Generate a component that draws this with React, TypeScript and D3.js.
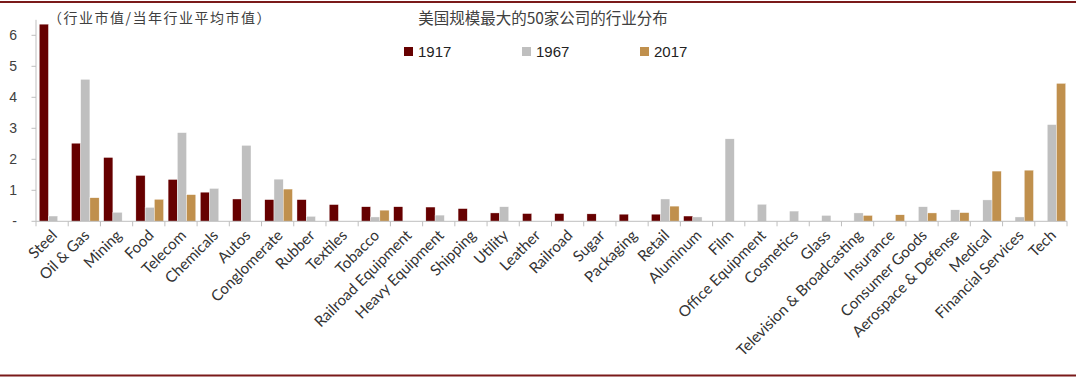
import React from "react";
import * as d3 from "d3";

const categories = [
  "Steel", "Oil & Gas", "Mining", "Food", "Telecom", "Chemicals", "Autos", "Conglomerate",
  "Rubber", "Textiles", "Tobacco", "Railroad Equipment", "Heavy Equipment", "Shipping", "Utility",
  "Leather", "Railroad", "Sugar", "Packaging", "Retail", "Aluminum", "Film", "Office Equipment",
  "Cosmetics", "Glass", "Television & Broadcasting", "Insurance", "Consumer Goods",
  "Aerospace & Defense", "Medical", "Financial Services", "Tech",
];

const seriesNames = ["1917", "1967", "2017"];

const values1917 = [6.36, 2.52, 2.06, 1.48, 1.35, 0.94, 0.72, 0.70, 0.70, 0.54, 0.47, 0.47, 0.46, 0.41, 0.27, 0.25, 0.25, 0.24, 0.23, 0.23, 0.17, 0, 0, 0, 0, 0, 0, 0, 0, 0, 0, 0];
const values1967 = [0.17, 4.58, 0.29, 0.45, 2.86, 1.06, 2.45, 1.36, 0.16, 0, 0.14, 0, 0.2, 0, 0.47, 0, 0, 0, 0, 0.72, 0.14, 2.66, 0.55, 0.33, 0.19, 0.27, 0, 0.47, 0.37, 0.69, 0.14, 3.12];
const values2017 = [0, 0.76, 0, 0.71, 0.86, 0, 0, 1.04, 0, 0, 0.36, 0, 0, 0, 0, 0, 0, 0, 0, 0.49, 0, 0, 0, 0, 0, 0.19, 0.21, 0.27, 0.28, 1.62, 1.65, 4.45];

const yTicks = [0, 1, 2, 3, 4, 5, 6];
const colors = ["#660000", "#BFBFBF", "#C0904D"];

const title = "美国规模最大的50家公司的行业分布";
const unitLabel = "（行业市值/当年行业平均市值）";

export default function App() {
  const W = 1080, H = 379;
  const left = 36, right = 1067, top = 19.8, bottom = 221.3;
  const series = [values1917, values1967, values2017];

  const x = d3.scaleBand<string>().domain(categories).range([left, right]).paddingInner(0).paddingOuter(0);
  const bw = x.bandwidth();
  const x1 = d3.scaleBand<string>().domain(seriesNames).range([bw * 0.1, bw * 0.1 + bw * 0.86]).padding(0);
  const y = d3.scaleLinear().domain([0, 6.5]).range([bottom, top]);

  const cjk = "'Noto Sans CJK SC', sans-serif";
  const latin = "'Liberation Sans', Arial, sans-serif";
  const labelFont = "Lato, 'Liberation Sans', sans-serif";
  const textColor = "#404040";

  const legendX = [404, 522, 640];

  return (
    <svg width={W} height={H} style={{ position: "absolute", left: 0, top: 0, background: "#fff" }}>
      <line x1={0} x2={1076} y1={2} y2={2} stroke="#7A1A1A" strokeWidth={2} />
      <line x1={0} x2={1076} y1={375.5} y2={375.5} stroke="#7A1A1A" strokeWidth={2} />

      <text x={543} y={24} textAnchor="middle" fontFamily={cjk} fontSize={15.5} fill={textColor}>{title}</text>
      <text x={48} y={23} fontFamily={cjk} fontSize={14} letterSpacing={1.5} fill={textColor}>{unitLabel}</text>

      {seriesNames.map((s, i) => (
        <g key={s}>
          <rect x={legendX[i]} y={47} width={9} height={9} fill={colors[i]} />
          <text x={legendX[i] + 14} y={57} fontFamily={latin} fontSize={15} fill="#222">{s}</text>
        </g>
      ))}

      {/* y axis */}
      <line x1={left} x2={left} y1={top} y2={bottom} stroke="#BFBFBF" strokeWidth={1} />
      {yTicks.map((t) => (
        <g key={t}>
          <line x1={left - 4.5} x2={left} y1={y(t)} y2={y(t)} stroke="#BFBFBF" />
          <text x={17} y={y(t) + 5} textAnchor="end" fontFamily={latin} fontSize={14} fill={textColor}>
            {t === 0 ? "-" : t}
          </text>
        </g>
      ))}

      {/* bars */}
      {categories.map((c, ci) => (
        <g key={c} transform={`translate(${x(c)},0)`}>
          {series.map((vals, si) =>
            vals[ci] > 0 ? (
              <rect
                key={si}
                x={x1(seriesNames[si])}
                y={y(vals[ci])}
                width={x1.bandwidth()}
                height={y(0) - y(vals[ci])}
                fill={colors[si]}
                stroke="#fff"
                strokeWidth={0.4}
              />
            ) : null
          )}
        </g>
      ))}

      {/* x axis */}
      <line x1={left} x2={right} y1={bottom} y2={bottom} stroke="#BFBFBF" strokeWidth={1} />
      {categories.map((c) => (
        <line key={"t" + c} x1={x(c)! + bw} x2={x(c)! + bw} y1={bottom} y2={bottom + 5} stroke="#BFBFBF" />
      ))}
      <line x1={left} x2={left} y1={bottom} y2={bottom + 5} stroke="#BFBFBF" />
      {categories.map((c) => {
        const cx = x(c)! + bw / 2 + 6;
        const cy = bottom + 15;
        return (
          <text
            key={"l" + c}
            transform={`translate(${cx},${cy}) rotate(-45)`}
            textAnchor="end"
            fontFamily={labelFont}
            fontSize={15.2}
            fill="#333"
          >
            {c}
          </text>
        );
      })}
    </svg>
  );
}
